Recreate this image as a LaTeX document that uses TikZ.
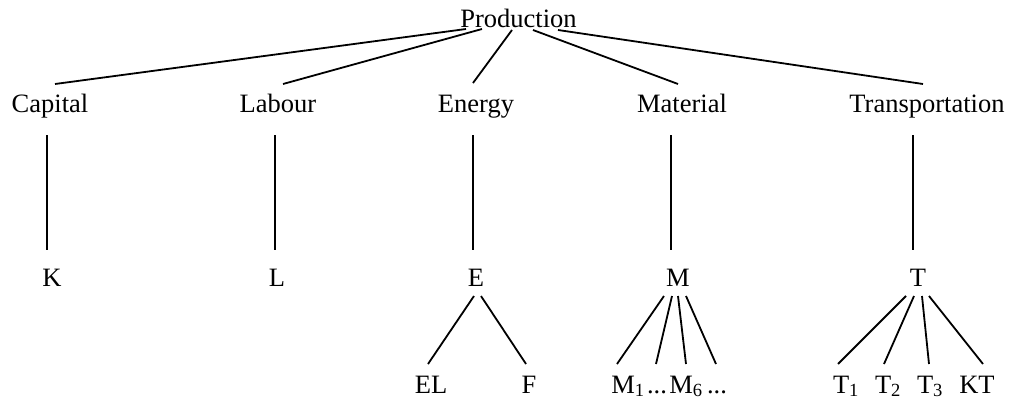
\documentclass[tikz,border=0pt]{standalone}
\usepackage{fontspec}
\setmainfont{Liberation Serif}
\usetikzlibrary{calc}
\tikzset{
  lbl/.style={anchor=base, inner sep=0pt, font=\fontsize{26.5}{30}\selectfont},
  edge/.style={line width=1.8pt, line cap=butt}
}
\newcommand{\seg}[6]{\draw[edge] ($(#1.base)+(#2,#3)$) -- ($(#4.base)+(#5,#6)$);}
\begin{document}
\begin{tikzpicture}[x=1pt,y=-1pt]
\useasboundingbox (0,0) rectangle (1015,405);
% level 0
\node[lbl] (prod) at (518.5,27) {Production};
% level 1
\node[lbl] (cap) at (50,112) {Capital};
\node[lbl] (lab) at (278,112) {Labour};
\node[lbl] (ene) at (476,112) {Energy};
\node[lbl] (mat) at (682,112) {Material};
\node[lbl] (tra) at (927,112) {Transportation};
% level 2
\node[lbl] (K) at (52,286) {K};
\node[lbl] (L) at (277,286) {L};
\node[lbl] (E) at (476,286) {E};
\node[lbl] (M) at (678,286) {M};
\node[lbl] (T) at (918,286) {T};
% level 3
\node[lbl] (EL) at (431,393) {EL};
\node[lbl] (F) at (529,393) {F};
\node[lbl] (m1) at (628,393) {M\textsubscript{1}};
\node[lbl] (d1) at (657,393) {...};
\node[lbl] (m6) at (686,393) {M\textsubscript{6}};
\node[lbl] (d2) at (717,393) {...};
\node[lbl] (t1) at (846,393) {T\textsubscript{1}};
\node[lbl] (t2) at (888,393) {T\textsubscript{2}};
\node[lbl] (t3) at (930,393) {T\textsubscript{3}};
\node[lbl] (kt) at (977,393) {KT};
% connectors level 0-1
\seg{prod}{-52.5}{2}{cap}{5}{-28}
\seg{prod}{-36.5}{2}{lab}{5}{-28}
\seg{prod}{-6.5}{3}{ene}{-3}{-29}
\seg{prod}{14.5}{3}{mat}{-4}{-28}
\seg{prod}{39.5}{3}{tra}{-4}{-28}
% verticals
\seg{cap}{-3}{23}{K}{-5}{-36}
\seg{lab}{-3}{23}{L}{-2}{-36}
\seg{ene}{-3}{23}{E}{-3}{-36}
\seg{mat}{-11}{23}{M}{-7}{-36}
\seg{tra}{-14}{23}{T}{-5}{-36}
% E children
\seg{E}{-2}{10}{EL}{-3}{-29}
\seg{E}{5}{10}{F}{-3}{-29}
% M children
\seg{M}{-14}{10}{m1}{-11}{-29}
\seg{M}{-6}{10}{d1}{-1}{-29}
\seg{M}{0}{10}{m6}{0}{-29}
\seg{M}{8}{10}{d2}{-1}{-29}
% T children
\seg{T}{-12}{10}{t1}{-8}{-29}
\seg{T}{-4}{10}{t2}{-4}{-29}
\seg{T}{4}{10}{t3}{-1}{-29}
\seg{T}{11}{10}{kt}{6}{-29}
\end{tikzpicture}
\end{document}
